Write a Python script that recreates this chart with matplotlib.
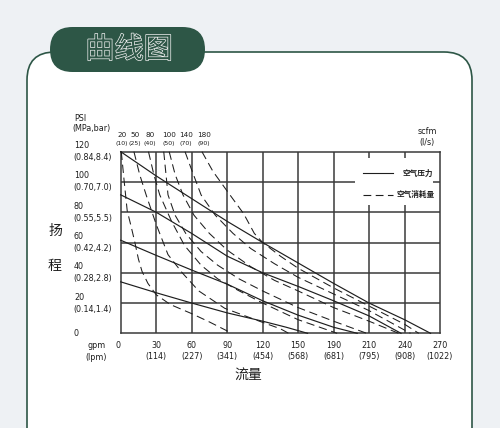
import matplotlib
matplotlib.use('Agg')
import matplotlib.pyplot as plt
from matplotlib.patches import FancyBboxPatch, Rectangle
from matplotlib.transforms import blended_transform_factory
import matplotlib.patheffects as pe

# axis ticks and labels
gpm_ticks = [0, 30, 60, 90, 120, 150, 180, 210, 240, 270]
gpm_labels = ['0', '30', '60', '90', '120', '150', '190', '210', '240', '270']
lpm_labels = ['', '(114)', '(227)', '(341)', '(454)', '(568)', '(681)', '(795)', '(908)', '(1022)']
psi_ticks = [0, 20, 40, 60, 80, 100, 120]
psi_labels = ['0', '20', '40', '60', '80', '100', '120']
mpa_labels = ['', '(0.14,1.4)', '(0.28,2.8)', '(0.42,4.2)', '(0.55,5.5)', '(0.70,7.0)', '(0.84,8.4)']

# air consumption labels along the top
scfm_labels = ['20', '50', '80', '100', '140', '180']
ls_labels = ['(10)', '(25)', '(40)', '(50)', '(70)', '(90)']
scfm_pos = [1.2, 12.2, 25, 41, 55.2, 70.2]

# air pressure curves (solid), gpm / psi
s1_x = [0, 30, 60, 90, 120, 150, 180, 210, 240, 262]
s1_y = [120, 104, 89, 74, 60, 46.5, 33, 20, 9, 0]
s2_x = [0, 30, 60, 90, 120, 150, 180, 210, 237]
s2_y = [91.5, 80, 66, 51, 40, 31, 21.5, 11.5, 0]
s3_x = [0, 30, 60, 90, 120, 150, 180, 200]
s3_y = [61.5, 51.5, 41.8, 32.5, 21.5, 12, 4, 0]
s4_x = [0, 30, 60, 90, 120, 140, 158]
s4_y = [34, 26.8, 20, 13.5, 8, 4, 0]

# air consumption curves (dashed)
d1_x = [0.5, 3, 5.5, 9, 12, 15, 18, 23, 30, 42, 60, 75, 94]
d1_y = [120, 100, 81, 70, 60, 49, 41, 33, 25.5, 19, 13, 7.5, 0]
d2_x = [11.2, 16, 21.7, 30, 40, 52, 66, 88, 119, 135, 142]
d2_y = [120, 105, 91, 72, 52, 40, 28, 16.5, 7.5, 3, 0]
d3_x = [23.5, 28, 33, 43, 54, 68, 82, 99, 120, 150, 183]
d3_y = [120, 105, 91.5, 74, 58, 45, 36, 28.5, 20, 9, 0]
d4_x = [36.4, 40, 46, 55, 68, 82, 100, 120, 150, 180, 208]
d4_y = [120, 91.5, 78, 66, 54, 45, 36, 28, 17, 8, 0]
d5_x = [41, 46, 52.7, 62, 75, 90, 110, 130, 150, 180, 210, 235]
d5_y = [120, 105, 91.4, 78, 66, 55, 44, 35, 28, 17, 8, 0]
d6_x = [54.4, 60, 68, 80, 95, 110, 130, 150, 180, 210, 245]
d6_y = [120, 108, 91.4, 78, 66, 56, 46, 37, 26, 15, 0]
d7_x = [68.7, 78, 90, 104, 113, 120, 135, 150, 180, 210, 240, 252]
d7_y = [120, 107, 94, 79, 66, 60, 51, 43, 30, 18, 6, 0]

solids = [(s1_x, s1_y), (s2_x, s2_y), (s3_x, s3_y), (s4_x, s4_y)]
dashes = [(d1_x, d1_y), (d2_x, d2_y), (d3_x, d3_y), (d4_x, d4_y),
          (d5_x, d5_y), (d6_x, d6_y), (d7_x, d7_y)]

green = '#2d5646'
ink = '#1e1e1e'
cjk = ['Noto Sans CJK SC', 'DejaVu Sans']

fig = plt.figure(figsize=(5, 4.28), dpi=100)
fig.patch.set_facecolor('#eef1f4')

# background layer in pixel coordinates
bg = fig.add_axes([0, 0, 1, 1])
bg.set_xlim(0, 500)
bg.set_ylim(428, 0)
bg.axis('off')
bg.add_patch(FancyBboxPatch((27, 52), 445, 420, boxstyle='round,pad=0,rounding_size=28',
                            fc='white', ec=green, lw=1.2))
bg.add_patch(FancyBboxPatch((50, 27), 155, 45, boxstyle='round,pad=0,rounding_size=22.5',
                            fc=green, ec='none'))
bg.text(129, 50, '曲线图', fontsize=21, color=green, ha='center', va='center',
        family=cjk, weight='light',
        path_effects=[pe.withStroke(linewidth=1.0, foreground='#f4f4f4')])

# chart area
ax = fig.add_axes([120.7 / 500, 1 - 333.3 / 428, 319.3 / 500, 181.6 / 428])
ax.set_facecolor('none')
ax.set_xlim(0, 270)
ax.set_ylim(0, 120)
ax.set_xticks([])
ax.set_yticks([])
for sp in ax.spines.values():
    sp.set_color('#3a3a3a')
    sp.set_linewidth(1.1)

ax.vlines(gpm_ticks[1:-1], 0, 120, color='#3a3a3a', lw=1.1, zorder=1)
ax.hlines(psi_ticks[1:-1], 0, 270, color='#3a3a3a', lw=1.1, zorder=1)

# legend block covering the grid
ax.add_patch(Rectangle((198, 84.6), 66, 31.5, fc='white', ec='none', zorder=2))
ax.plot([204.8, 230.2], [105.9, 105.9], color=ink, lw=0.8, zorder=3)
ax.plot([204.8, 230.2], [91.4, 91.4], color=ink, lw=0.8, dashes=(7, 4), zorder=3)
ax.text(251.4, 105.9, '空气压力', fontsize=5.5, family=cjk, ha='center', va='center',
        color=ink, weight='bold', zorder=3)
ax.text(249.7, 91.4, '空气消耗量', fontsize=5.5, family=cjk, ha='center', va='center',
        color=ink, weight='bold', zorder=3)

for xs, ys in solids:
    ax.plot(xs, ys, color=ink, lw=0.85, zorder=3, clip_on=False)
for xs, ys in dashes:
    ax.plot(xs, ys, color=ink, lw=0.75, dashes=(8, 4.5), zorder=3, clip_on=False)

tx = blended_transform_factory(ax.transData, bg.transData)
ty = blended_transform_factory(bg.transData, ax.transData)
fs = 5.8

# x tick labels
for g, lab, lp in zip(gpm_ticks, gpm_labels, lpm_labels):
    xo = -3 if g == 0 else 0
    ax.annotate(lab, xy=(g, 346), xycoords=tx, xytext=(xo, 0), textcoords='offset pixels',
                ha='center', va='center', fontsize=fs, color=ink)
    if lp:
        ax.text(g, 357, lp, transform=tx, ha='center', va='center', fontsize=fs, color=ink)
bg.text(97, 346, 'gpm', ha='center', va='center', fontsize=fs, color=ink)
bg.text(96.5, 357, '(lpm)', ha='center', va='center', fontsize=fs, color=ink)

# y tick labels
for p, lab, mp in zip(psi_ticks, psi_labels, mpa_labels):
    dy = 0 if p == 0 else 6
    ax.annotate(lab, xy=(74, p), xycoords=ty, xytext=(0, dy), textcoords='offset pixels',
                ha='left', va='center', fontsize=fs, color=ink)
    if mp:
        ax.annotate(mp, xy=(73, p), xycoords=ty, xytext=(0, -6), textcoords='offset pixels',
                    ha='left', va='center', fontsize=fs, color=ink)
bg.text(74, 118.3, 'PSI', ha='left', va='center', fontsize=fs, color=ink)
bg.text(72.5, 129, '(MPa,bar)', ha='left', va='center', fontsize=fs, color=ink)

# top consumption labels
for g, lab, ls in zip(scfm_pos, scfm_labels, ls_labels):
    ax.text(g, 134.7, lab, transform=tx, ha='center', va='center', fontsize=5.2, color=ink)
    ax.text(g, 143.8, ls, transform=tx, ha='center', va='center', fontsize=4.5, color=ink)
bg.text(427, 131, 'scfm', ha='center', va='center', fontsize=fs, color=ink)
bg.text(427, 142, '(l/s)', ha='center', va='center', fontsize=fs, color=ink)

# axis titles
bg.text(55, 231, '扬', ha='center', va='center', fontsize=10, family=cjk, color=ink)
bg.text(55, 266, '程', ha='center', va='center', fontsize=10, family=cjk, color=ink)
bg.text(248, 375, '流量', ha='center', va='center', fontsize=10, family=cjk, color=ink)

fig.savefig('out.png', dpi=100, facecolor=fig.get_facecolor())
